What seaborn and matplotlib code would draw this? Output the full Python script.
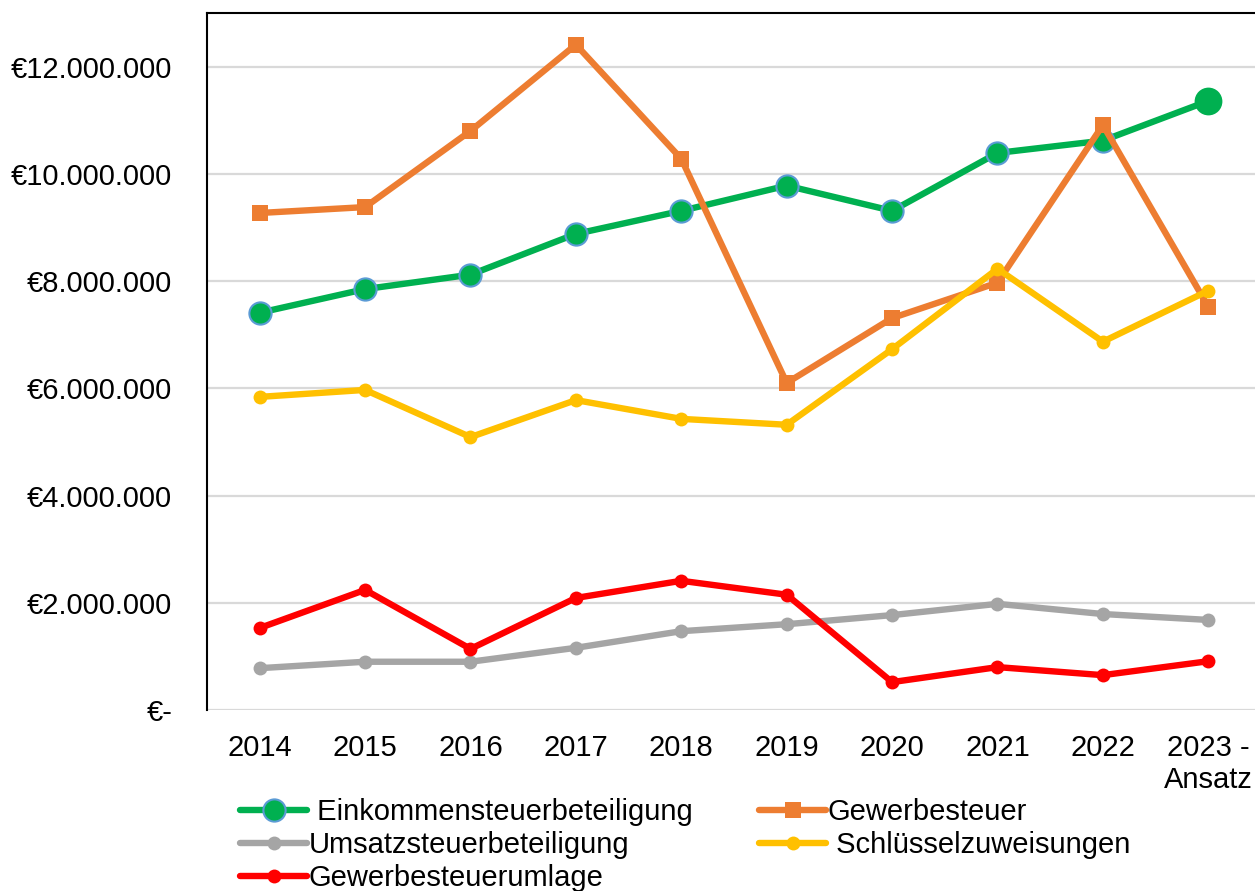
import numpy as np
import pandas as pd
import seaborn as sns
import matplotlib.pyplot as plt
from matplotlib.ticker import FuncFormatter

# data (values in euro)
years = ["2014", "2015", "2016", "2017", "2018", "2019", "2020", "2021", "2022", "2023 -\nAnsatz"]
einkommen = [7.41e6, 7.85e6, 8.12e6, 8.88e6, 9.31e6, 9.78e6, 9.31e6, 10.39e6, 10.62e6, 11.36e6]
gewerbe = [9.27e6, 9.38e6, 10.80e6, 12.41e6, 10.28e6, 6.10e6, 7.31e6, 7.97e6, 10.91e6, 7.52e6]
umsatz = [0.78e6, 0.90e6, 0.90e6, 1.16e6, 1.47e6, 1.60e6, 1.77e6, 1.98e6, 1.79e6, 1.68e6]
schluessel = [5.84e6, 5.97e6, 5.09e6, 5.78e6, 5.43e6, 5.32e6, 6.73e6, 8.23e6, 6.87e6, 7.82e6]
umlage = [1.53e6, 2.24e6, 1.14e6, 2.09e6, 2.41e6, 2.15e6, 0.52e6, 0.80e6, 0.65e6, 0.91e6]

sns.set_style("white")
plt.rcParams['font.family'] = ['Liberation Sans', 'DejaVu Sans']

df = pd.DataFrame({"x": np.arange(len(years)), "Einkommensteuerbeteiligung": einkommen,
                   "Gewerbesteuer": gewerbe, "Umsatzsteuerbeteiligung": umsatz,
                   "Schlüsselzuweisungen": schluessel, "Gewerbesteuerumlage": umlage})

fig = plt.figure(figsize=(12.55, 8.91), dpi=100)
ax = fig.add_axes([207 / 1255, 1 - 710 / 891, (1261 - 207) / 1255, (710 - 13) / 891])

lw = 4.6
# green line: all points except last get a blue edge
sns.lineplot(data=df, x="x", y="Einkommensteuerbeteiligung", ax=ax, color="#00B050", lw=lw,
             label=" Einkommensteuerbeteiligung", marker="o", markersize=16,
             markeredgecolor="#5B9BD5", markeredgewidth=1.5, markevery=list(range(len(years) - 1)))
last = df.iloc[[-1]]
ax.plot(last["x"], last["Einkommensteuerbeteiligung"], "o", color="#00B050", markersize=20,
        markeredgewidth=0, zorder=3)
sns.lineplot(data=df, x="x", y="Gewerbesteuer", ax=ax, color="#ED7D31", lw=lw,
             label="Gewerbesteuer", marker="s", markersize=12, markeredgewidth=0)
sns.lineplot(data=df, x="x", y="Umsatzsteuerbeteiligung", ax=ax, color="#A5A5A5", lw=lw,
             label="Umsatzsteuerbeteiligung", marker="o", markersize=10, markeredgewidth=0)
sns.lineplot(data=df, x="x", y="Schlüsselzuweisungen", ax=ax, color="#FFC000", lw=lw,
             label=" Schlüsselzuweisungen", marker="o", markersize=10, markeredgewidth=0)
sns.lineplot(data=df, x="x", y="Gewerbesteuerumlage", ax=ax, color="#FF0000", lw=lw,
             label="Gewerbesteuerumlage", marker="o", markersize=10, markeredgewidth=0)

ax.set_xlim(-0.5, len(years) - 0.5)
ax.set_ylim(0, 13e6)
ax.set_xticks(df["x"])
ax.set_xticklabels(years)
ax.set_yticks(np.arange(0, 13e6, 2e6))


def euro(v, pos):
    if v == 0:
        return "€-"
    return "€" + f"{v:,.0f}".replace(",", ".")


ax.yaxis.set_major_formatter(FuncFormatter(euro))
ax.set_xlabel("")
ax.set_ylabel("")
ax.tick_params(axis="both", length=0, labelsize=21, colors="black")
ax.tick_params(axis="x", pad=17)
ax.tick_params(axis="y", pad=25)
ax.grid(axis="y", color="#D9D9D9", lw=1.6)
ax.set_axisbelow(True)
for s in ["left", "top", "right"]:
    ax.spines[s].set_color("black")
    ax.spines[s].set_linewidth(1.5)
ax.spines["bottom"].set_visible(False)

# legend filled row by row as in the original: reorder for column-major layout
handles, labels = ax.get_legend_handles_labels()
order = [0, 2, 4, 1, 3]
ax.legend([handles[i] for i in order], [labels[i] for i in order],
          loc="upper left", bbox_to_anchor=(240 / 1255, 1 - 798 / 891),
          bbox_transform=fig.transFigure, ncol=2, frameon=False, fontsize=21,
          handlelength=2.3, handletextpad=0.05, columnspacing=2.3, labelspacing=0.18,
          borderpad=0, borderaxespad=0, labelcolor="black")

fig.savefig("out.png", dpi=100)
